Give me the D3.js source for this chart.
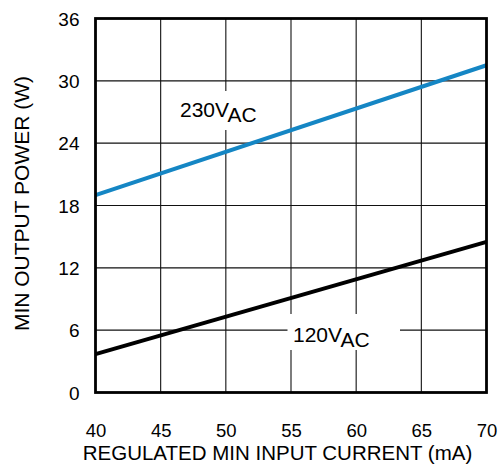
<!DOCTYPE html>
<html>
<head>
<meta charset="utf-8">
<script src="https://cdn.jsdelivr.net/npm/d3@7"></script>
<style>
  html, body { margin: 0; padding: 0; background: #fff; }
  svg { display: block; font-family: Arial, "Liberation Sans", sans-serif; }
</style>
</head>
<body>
<svg id="chart" width="501" height="468"></svg>
<script>
// Data
const currents = [40, 70];                 // mA
const power230 = [19.0, 31.5];             // W
const power120 = [3.7, 14.5];              // W
const xTicks = [40, 45, 50, 55, 60, 65, 70];
const yTicks = [0, 6, 12, 18, 24, 30, 36];
const xTitle = "REGULATED MIN INPUT CURRENT (mA)";
const yTitle = "MIN OUTPUT POWER (W)";

const svg = d3.select("#chart");
const L = 95.5, R = 486.5, T = 18.5, B = 392.5;
const x = d3.scaleLinear().domain([40, 70]).range([L, R]);
const y = d3.scaleLinear().domain([0, 36]).range([B, T]);

// grid
const grid = svg.append("g");
grid.selectAll(".vg").data(xTicks.slice(1, -1)).join("line")
  .attr("x1", d => x(d)).attr("x2", d => x(d))
  .attr("y1", T).attr("y2", B)
  .attr("stroke", "#111").attr("stroke-width", 1.1);
grid.selectAll(".hg").data(yTicks.slice(1, -1)).join("line")
  .attr("x1", L).attr("x2", R)
  .attr("y1", d => y(d)).attr("y2", d => y(d))
  .attr("stroke", "#111").attr("stroke-width", 1.1);

// data lines
const pts = (vals) => currents.map((c, i) => [c, vals[i]]);
const line = d3.line().x(d => x(d[0])).y(d => y(d[1]));
svg.append("path").attr("d", line(pts(power230)))
  .attr("fill", "none").attr("stroke", "#1586c4").attr("stroke-width", 4);
svg.append("path").attr("d", line(pts(power120)))
  .attr("fill", "none").attr("stroke", "#000").attr("stroke-width", 4);

// labels with white boxes
function label(bx, by, bw, bh, tx, ty, main, sub) {
  svg.append("rect").attr("x", bx).attr("y", by).attr("width", bw).attr("height", bh).attr("fill", "#fff");
  const t = svg.append("text").attr("x", tx).attr("y", ty)
    .attr("font-size", 21).attr("fill", "#000");
  t.append("tspan").text(main);
  t.append("tspan").attr("dy", 5.5).text(sub);
}
label(176, 91, 88, 39, 180, 116.5, "230V", "AC");
label(287.5, 314, 112.5, 36, 293, 341.5, "120V", "AC");

// frame
svg.append("rect").attr("x", L).attr("y", T).attr("width", R - L).attr("height", B - T)
  .attr("fill", "none").attr("stroke", "#000").attr("stroke-width", 2.8);

// axes
const xAxis = d3.axisBottom(x).tickValues(xTicks).tickSize(0).tickPadding(0);
const gx = svg.append("g").attr("transform", `translate(0,${B})`).call(xAxis);
gx.select(".domain").remove();
gx.selectAll("text").attr("font-size", 18.5).attr("fill", "#000")
  .attr("font-family", "Arial, 'Liberation Sans', sans-serif")
  .attr("dy", null).attr("y", 44.5);

const yAxis = d3.axisLeft(y).tickValues(yTicks).tickSize(0).tickPadding(16);
const gy = svg.append("g").attr("transform", `translate(${L},0)`).call(yAxis);
gy.select(".domain").remove();
gy.selectAll("text").attr("font-size", 19).attr("fill", "#000")
  .attr("font-family", "Arial, 'Liberation Sans', sans-serif")
  .attr("dy", "0.35em");

// titles
svg.append("text").attr("x", (75 + 480) / 2).attr("y", 459.5)
  .attr("text-anchor", "middle").attr("font-size", 20.5).attr("fill", "#000").text(xTitle);
svg.append("text").attr("transform", `translate(28.5,${(69 + 338) / 2}) rotate(-90)`)
  .attr("text-anchor", "middle").attr("font-size", 21).attr("fill", "#000").text(yTitle);
</script>
</body>
</html>
